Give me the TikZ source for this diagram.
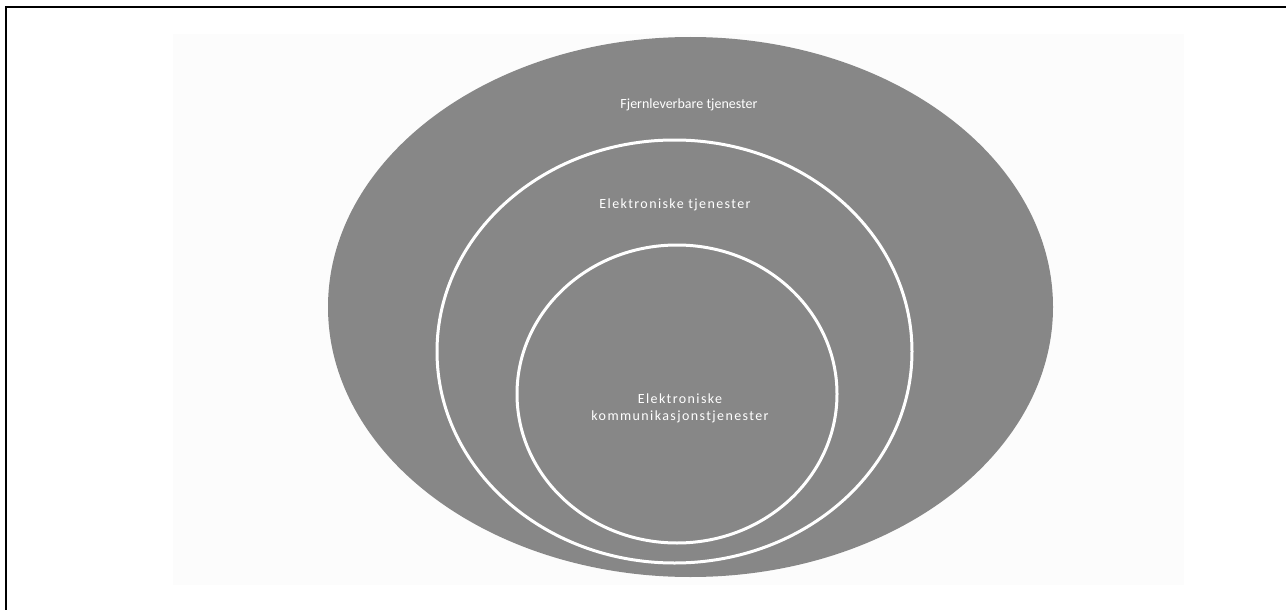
\documentclass[tikz,border=0pt]{standalone}
\usepackage{fontspec}
\setmainfont{Carlito}
\newfontfamily\widefont[LetterSpace=10]{Carlito}
\definecolor{ringgray}{RGB}{135,135,135}
\definecolor{panel}{RGB}{252,252,252}
\begin{document}
\begin{tikzpicture}[x=1pt,y=-1pt,
  lbl/.style={text=white,font=\fontsize{14}{17}\selectfont,align=center,inner sep=0pt},
  widelbl/.style={lbl,font=\widefont\fontsize{14}{17}\selectfont},
  ringline/.style={draw=white,line width=3pt}]
\useasboundingbox (0,0) rectangle (1286,610);
% light panel behind the diagram
\fill[panel] (173,34) rectangle (1184,585);
% frame lines (top and left)
\draw[line width=2pt] (6,610) -- (6,7) -- (1286,7);
% nested sets
\fill[ringgray] (690.5,307) ellipse [x radius=362.5, y radius=270];
\draw[ringline] (674.5,351.5) ellipse [x radius=237.5, y radius=211.5];
\draw[ringline] (677,394) ellipse [x radius=160, y radius=149];
% labels
\node[lbl] (outer) at (689,105) {Fjernleverbare tjenester};
\node[widelbl] (middle) at (675,205) {Elektroniske tjenester};
\node[widelbl] (inner) at (680,408) {Elektroniske\\kommunikasjonstjenester};
\end{tikzpicture}
\end{document}
